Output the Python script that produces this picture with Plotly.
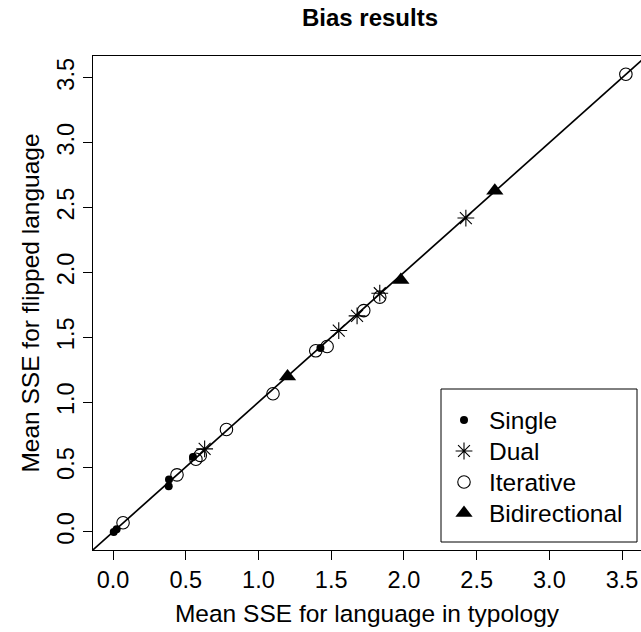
import plotly.graph_objects as go

# ---- data ----
single_x = [0.005, 0.025, 0.385, 0.383, 0.55, 1.426]
single_y = [0.000, 0.020, 0.404, 0.352, 0.578, 1.417]

dual_x = [0.63, 1.552, 1.678, 1.834, 2.426]
dual_y = [0.64, 1.552, 1.665, 1.840, 2.419]

iter_x = [0.069, 0.44, 0.57, 0.60, 0.78, 1.10, 1.394, 1.472, 1.724, 1.834, 3.526]
iter_y = [0.071, 0.44, 0.56, 0.59, 0.79, 1.065, 1.396, 1.429, 1.706, 1.810, 3.527]

bidir_x = [1.20, 1.979, 2.625]
bidir_y = [1.198, 1.942, 2.630]

# identity reference line y = x
ref_x = [-1.0, 5.0]
ref_y = [-1.0, 5.0]

tick_vals = [0.0, 0.5, 1.0, 1.5, 2.0, 2.5, 3.0, 3.5]
tick_text = ["0.0", "0.5", "1.0", "1.5", "2.0", "2.5", "3.0", "3.5"]

legend_labels = ["Single", "Dual", "Iterative", "Bidirectional"]

FONT = "Liberation Sans, Arial, Helvetica, sans-serif"

# plot-area geometry (pixels)
W, H = 641, 632
L, R, T, B = 93, 0, 56, 82

# styles per series
styles = {
    "Single": dict(symbol="circle", size=8, color="black"),
    "Dual": dict(symbol="asterisk-open", size=14, color="black",
                 line=dict(color="black", width=1.1)),
    "Iterative": dict(symbol="circle-open", size=12.5, color="black",
                      line=dict(color="black", width=1.1)),
    "Bidirectional": dict(symbol="triangle-up", size=15, color="black"),
}

fig = go.Figure()

fig.add_trace(go.Scatter(x=ref_x, y=ref_y, mode="lines",
                         line=dict(color="black", width=1.7),
                         showlegend=False, hoverinfo="skip"))

series = [("Single", single_x, single_y), ("Dual", dual_x, dual_y),
          ("Iterative", iter_x, iter_y), ("Bidirectional", bidir_x, bidir_y)]
for name, xs, ys in series:
    fig.add_trace(go.Scatter(x=xs, y=ys, mode="markers", name=name,
                             marker=styles[name], showlegend=False))

# ---- legend drawn in a pixel-based overlay axis ----
leg_left, leg_right, leg_top, leg_bottom = 441, 637, 389, 542
key_x, text_x = 464, 487
row_y0, row_step = 420, 31

fig.add_shape(type="rect", xref="x2", yref="y2",
              x0=leg_left, x1=leg_right, y0=leg_top, y1=leg_bottom,
              line=dict(color="black", width=1), fillcolor="white", layer="below")

for i, name in enumerate(legend_labels):
    ry = row_y0 + i * row_step
    fig.add_trace(go.Scatter(x=[key_x], y=[ry], mode="markers", xaxis="x2", yaxis="y2",
                             marker=styles[name], showlegend=False, hoverinfo="skip"))
    fig.add_annotation(x=text_x, y=ry, xref="x2", yref="y2", text=name,
                       showarrow=False, xanchor="left", yanchor="middle",
                       font=dict(family=FONT, size=24.5, color="black"))

fig.update_layout(
    width=W, height=H,
    margin=dict(l=L, r=R, t=T, b=B),
    paper_bgcolor="white", plot_bgcolor="white",
    font=dict(family=FONT, color="black", size=24),
    title=dict(text="<b>Bias results</b>", x=370 / W, xref="container", xanchor="center",
               y=1 - 18 / H, yref="container", yanchor="middle",
               font=dict(family=FONT, size=24, color="black")),
    showlegend=False,
    xaxis2=dict(overlaying="x", range=[L, W - R], visible=False, fixedrange=True),
    yaxis2=dict(overlaying="y", range=[H - B, T], visible=False, fixedrange=True),
    xaxis=dict(range=[-0.1375, 3.63], tickvals=tick_vals, ticktext=tick_text,
               showgrid=False, zeroline=False, showline=True, linecolor="black",
               linewidth=1, mirror=True, ticks="outside", ticklen=9, tickcolor="black",
               tickfont=dict(family=FONT, size=23.5, color="black"),
               title=dict(text="Mean SSE for language in typology",
                          font=dict(family=FONT, size=24.5, color="black"), standoff=12)),
    yaxis=dict(range=[-0.139, 3.668], tickvals=tick_vals, ticktext=tick_text,
               showgrid=False, zeroline=False, showline=True, linecolor="black",
               linewidth=1, mirror=False, ticks="outside", ticklen=9, tickcolor="black",
               tickangle=-90,
               tickfont=dict(family=FONT, size=23.5, color="black"),
               title=dict(text="Mean SSE for flipped language",
                          font=dict(family=FONT, size=24.5, color="black"), standoff=6)),
)

fig.write_html("out.html")
